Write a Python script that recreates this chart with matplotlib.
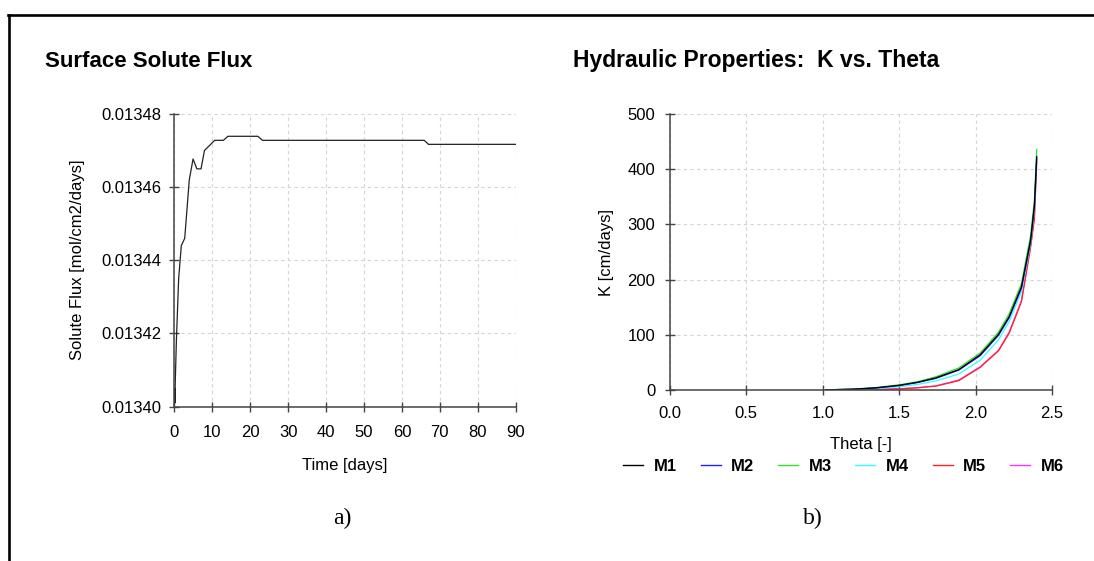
import matplotlib
matplotlib.use('Agg')
import matplotlib.pyplot as plt
from matplotlib.lines import Line2D
from matplotlib.ticker import FormatStrFormatter, MultipleLocator

plt.rcParams['font.family'] = ['Liberation Sans', 'DejaVu Sans']

# a) surface solute flux
time_days = [0, 0.08, 0.12, 0.16, 0.5, 1.1, 1.8, 2.7, 3.9, 4.9, 5.9, 7.0, 7.9,
             10.6, 12.9, 14.1, 22.0, 23.2, 65.9, 67.0, 90.0]
solute_flux = [0.013401, 0.013405, 0.013401, 0.013405, 0.013418, 0.013435,
               0.013444, 0.013446, 0.013462, 0.0134677, 0.013465, 0.013465,
               0.013470, 0.0134728, 0.0134728, 0.0134739, 0.0134739, 0.0134728,
               0.0134728, 0.0134717, 0.0134717]

# b) hydraulic properties K vs theta
theta = [1.02, 1.2, 1.35, 1.5, 1.62, 1.74, 1.89, 2.03, 2.15, 2.22, 2.30, 2.36, 2.385, 2.40]
k_models = {
    'M1': [0.3, 1.5, 4, 8.5, 14, 22, 37, 64, 101, 133, 187, 272, 335, 423],
    'M2': [0.3, 1.4, 3.8, 8, 13.5, 21, 36, 62, 99, 131, 184, 268, 332, 420],
    'M3': [0.4, 1.7, 4.5, 9.5, 15, 24, 40, 67, 105, 138, 193, 280, 345, 436],
    'M4': [0.2, 1.0, 2.8, 6, 10, 16.5, 29, 54, 91, 124, 178, 265, 330, 425],
    'M5': [0.0, 0.2, 0.8, 2, 4, 7, 17, 41, 71, 103, 160, 258, 310, 412],
    'M6': [0.0, 0.2, 0.9, 2.2, 4.2, 7.5, 18, 42, 72, 105, 162, 262, 315, 418],
}
model_colors = ['black', '#2222ff', '#33dd33', '#33ffff', '#ff2222', '#ff33ff']

spine_col = '#444444'
grid_col = '#d4d4d4'


def style_axes(ax):
    for s in ['top', 'right']:
        ax.spines[s].set_visible(False)
    for s in ['left', 'bottom']:
        ax.spines[s].set_color(spine_col)
        ax.spines[s].set_linewidth(1.1)
    ax.tick_params(direction='inout', length=7.2, width=1.0, color=spine_col,
                   labelsize=12, labelcolor='black')
    ax.grid(True, color=grid_col, linestyle=(0, (3, 3)), linewidth=0.8)
    ax.set_axisbelow(True)


fig = plt.figure(figsize=(10.94, 5.61), dpi=100)

# outer frame (top and left edges)
fig.add_artist(Line2D([8 / 1094, 1], [1 - 15 / 561, 1 - 15 / 561], color='black', lw=1.9))
fig.add_artist(Line2D([9 / 1094, 9 / 1094], [1 - 15 / 561, 0], color='black', lw=1.9))

# ---- left panel
ax1 = fig.add_axes([0.1595, 0.2754, 0.3118, 0.5214])
ax1.plot(time_days, solute_flux, color='#222222', lw=0.9)
ax1.set_xlim(0, 90)
ax1.set_ylim(0.01340, 0.01348)
ax1.xaxis.set_major_locator(MultipleLocator(10))
ax1.yaxis.set_major_locator(MultipleLocator(0.00002))
ax1.yaxis.set_major_formatter(FormatStrFormatter('%.5f'))
style_axes(ax1)
ax1.tick_params(axis='x', pad=10)
ax1.tick_params(axis='y', pad=6)
ax1.set_xlabel('Time [days]', fontsize=12, va='center')
ax1.xaxis.set_label_coords(0.5, -0.2)
ax1.set_ylabel('Solute Flux [mol/cm2/days]', fontsize=12, va='center')
ax1.yaxis.set_label_coords(-0.283, 0.5)
fig.text(45 / 1094, 1 - 67 / 561, 'Surface Solute Flux', fontsize=16,
         fontweight='bold', va='baseline', ha='left')

# ---- right panel
ax2 = fig.add_axes([0.6124, 0.3048, 0.3492, 0.4920])
names = list(k_models.keys())
for i in reversed(range(len(names))):
    ax2.plot(theta, k_models[names[i]], color=model_colors[i], lw=0.9, label=names[i])
ax2.set_xlim(0, 2.5)
ax2.set_ylim(0, 500)
ax2.xaxis.set_major_locator(MultipleLocator(0.5))
ax2.yaxis.set_major_locator(MultipleLocator(100))
ax2.xaxis.set_major_formatter(FormatStrFormatter('%.1f'))
style_axes(ax2)
ax2.tick_params(axis='x', pad=8)
ax2.tick_params(axis='y', pad=7)
ax2.set_xlabel('Theta [-]', fontsize=12, va='center')
ax2.xaxis.set_label_coords(0.501, -0.196)
ax2.set_ylabel('K [cm/days]', fontsize=12, va='center')
ax2.yaxis.set_label_coords(-0.165, 0.5)
fig.text(573 / 1094, 1 - 67 / 561, 'Hydraulic Properties:  K vs. Theta', fontsize=16.5,
         fontweight='bold', va='baseline', ha='left')

handles = [Line2D([], [], color=c, lw=1.0) for c in model_colors]
fig.legend(handles, names, loc='center', bbox_to_anchor=(0.771, 1 - 466.7 / 561),
           ncol=6, frameon=False, handlelength=1.2, handletextpad=0.63,
           columnspacing=1.42, prop={'weight': 'bold', 'size': 12})

# captions
fig.text(342 / 1094, 1 - 518 / 561, 'a)', family='Liberation Serif', fontsize=17,
         ha='center', va='center')
fig.text(813 / 1094, 1 - 518 / 561, 'b)', family='Liberation Serif', fontsize=17,
         ha='center', va='center')

fig.savefig('out.png', dpi=100)
